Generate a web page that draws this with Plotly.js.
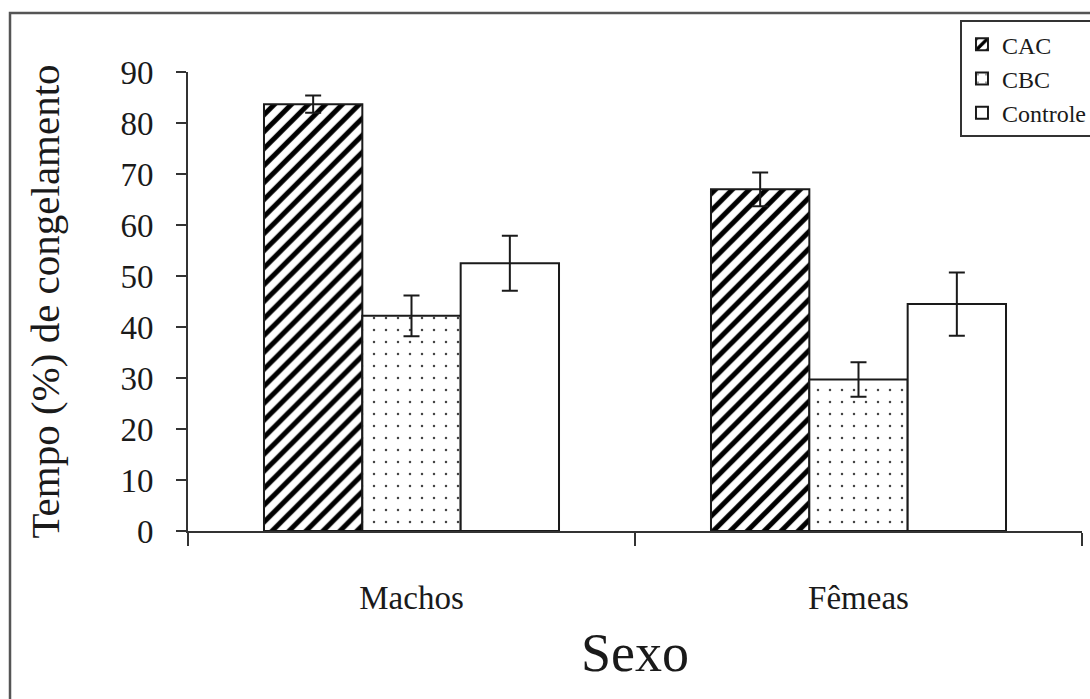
<!DOCTYPE html>
<html>
<head>
<meta charset="utf-8">
<script src="https://cdn.plot.ly/plotly-3.0.1.min.js"></script>
<style>
  html, body { margin: 0; padding: 0; background: #fff; }
  #chart { width: 1090px; height: 699px; }
</style>
</head>
<body>
<div id="chart"></div>
<script>
// ---- data ----
var categories = ['Machos', 'Fêmeas'];
var seriesNames = ['CAC', 'CBC', 'Controle'];
var cacValues = [83.7, 67.0];
var cacErrors = [1.7, 3.3];
var cbcValues = [42.2, 29.7];
var cbcErrors = [4.0, 3.4];
var controleValues = [52.5, 44.5];
var controleErrors = [5.4, 6.2];
var yTickValues = [0, 10, 20, 30, 40, 50, 60, 70, 80, 90];

var serif = '"Liberation Serif", "Times New Roman", Times, serif';
var ink = '#1a1a1a';

function errorBar(arr) {
  return { type: 'data', array: arr, visible: true, color: ink, thickness: 2, width: 8 };
}

var traces = [
  {
    type: 'bar', name: seriesNames[0], x: categories, y: cacValues,
    error_y: errorBar(cacErrors), legendgroup: 'g1',
    marker: {
      color: '#ffffff',
      line: { color: ink, width: 2 },
      pattern: { shape: '/', size: 12, solidity: 0.42, fgcolor: '#000000', bgcolor: '#ffffff', fillmode: 'replace' }
    }
  },
  {
    type: 'bar', name: seriesNames[1], x: categories, y: cbcValues,
    error_y: errorBar(cbcErrors), legendgroup: 'g2',
    marker: {
      color: '#ffffff',
      line: { color: ink, width: 2 },
      pattern: { shape: '.', size: 12, solidity: 0.035, fgcolor: '#444444', bgcolor: '#ffffff', fillmode: 'replace' }
    }
  },
  {
    type: 'bar', name: seriesNames[2], x: categories, y: controleValues,
    error_y: errorBar(controleErrors), legendgroup: 'g3',
    marker: { color: '#ffffff', line: { color: ink, width: 2 } }
  }
];

var layout = {
  width: 1090, height: 699,
  paper_bgcolor: '#ffffff', plot_bgcolor: '#ffffff',
  margin: { l: 188, r: 8, t: 72, b: 168, autoexpand: false },
  font: { family: serif, color: ink },
  barmode: 'group', bargap: 0.34, bargroupgap: 0,
  showlegend: true,
  legend: {
    x: 0.8635, xanchor: 'left', y: 1.113, yanchor: 'top',
    bgcolor: '#ffffff', bordercolor: '#333333', borderwidth: 2,
    font: { family: serif, size: 24, color: ink },
    tracegroupgap: 8, traceorder: 'normal'
  },
  xaxis: {
    type: 'category', automargin: false,
    showline: true, linecolor: '#333333', linewidth: 2,
    ticks: 'outside', tickson: 'boundaries', ticklen: 13, tickwidth: 2, tickcolor: '#333333',
    ticklabelstandoff: 36,
    tickfont: { family: serif, size: 33, color: ink },
    showgrid: false, zeroline: false,
    title: { text: 'Sexo', font: { family: serif, size: 54, color: ink }, standoff: 19 }
  },
  yaxis: {
    range: [0, 90], automargin: false,
    tickmode: 'array', tickvals: yTickValues, ticktext: yTickValues.map(String),
    showline: true, linecolor: '#333333', linewidth: 2,
    ticks: 'outside', ticklen: 10, tickwidth: 2, tickcolor: '#333333',
    ticklabelstandoff: 16,
    tickfont: { family: serif, size: 33, color: ink },
    showgrid: false, zeroline: false,
    title: { text: 'Tempo (%) de congelamento', font: { family: serif, size: 41, color: ink }, standoff: 48 }
  },
  shapes: [
    {
      type: 'rect', xref: 'paper', yref: 'paper',
      x0: -0.1991, x1: 1.2, y0: -0.6, y1: 1.1285,
      line: { color: '#555555', width: 2.5 }, fillcolor: 'rgba(0,0,0,0)', layer: 'below'
    }
  ]
};

Plotly.newPlot('chart', traces, layout, { displayModeBar: false, staticPlot: true });
</script>
</body>
</html>
